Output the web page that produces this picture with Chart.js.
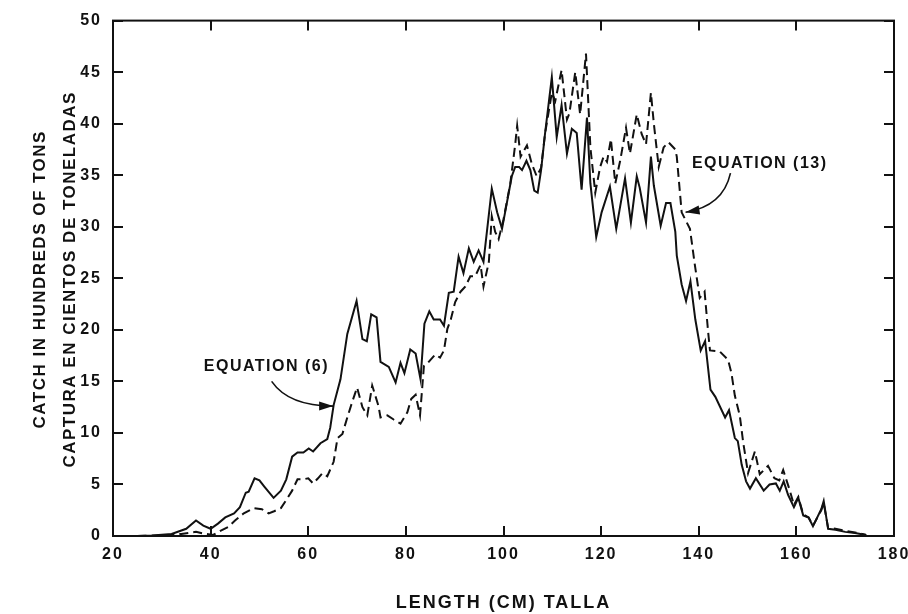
<!DOCTYPE html>
<html>
<head>
<meta charset="utf-8">
<script src="https://cdn.jsdelivr.net/npm/chart.js@4.4.1/dist/chart.umd.min.js"></script>
<style>
  html, body { margin: 0; padding: 0; background: #fff; }
  canvas { display: block; }
</style>
</head>
<body>
<canvas id="chart" width="908" height="614"></canvas>
<script>
// Catch by length, two estimates (solid = eq. 6, dashed = eq. 13).
const eq6Length = [25, 28, 32, 35, 37, 38.5, 40, 41.5, 43, 44.8, 46, 47.2, 47.8, 49, 50, 51, 52.9, 54.4, 55.5, 56.7,
  57.8, 59, 60.1, 61, 62.5, 63.9, 64.5, 65.2, 66.6, 68, 69.9, 71.1, 72, 72.9, 74, 74.8, 76.5, 77.9, 78.9, 79.7,
  80.9, 82, 83, 83.8, 84.8, 85.7, 87, 87.8, 88.8, 89.8, 90.8, 91.8, 92.9, 93.9, 94.9, 95.9, 97.6, 98.7, 99.7, 101.7,
  102.4, 103.2, 103.8, 104.7, 105.5, 106.3, 107, 107.7, 108.5, 109.9, 110.9, 111.9, 113, 114, 115, 116, 117.1, 117.8, 119, 120.1,
  121.8, 123.1, 124.9, 126.1, 127.3, 127.9, 129.2, 130.2, 130.8, 132.2, 133.3, 134.2, 135.2, 135.5, 136.5, 137.4, 138.3, 139.3, 140.4, 141.3,
  142.4, 143.4, 145.4, 146.2, 147.4, 148, 148.8, 149.7, 150.5, 151.7, 153.3, 154.5, 155.8, 156.6, 157.4, 158.3, 159.5, 160.4, 161.4, 162.5,
  163.4, 165.1, 165.6, 166.5, 168, 170, 172, 174.3];
const eq6Catch = [0, 0.05, 0.2, 0.7, 1.5, 1.0, 0.7, 1.2, 1.8, 2.2, 2.8, 4.2, 4.3, 5.6, 5.4, 4.8, 3.7, 4.4, 5.5, 7.7,
  8.1, 8.1, 8.5, 8.2, 9.0, 9.4, 10.5, 12.7, 15.2, 19.6, 22.8, 19.1, 18.9, 21.5, 21.2, 16.9, 16.4, 14.9, 16.8, 15.8,
  18.1, 17.7, 15.2, 20.6, 21.8, 21.0, 21.0, 20.4, 23.6, 23.7, 27.1, 25.5, 27.9, 26.6, 27.7, 26.6, 33.7, 31.4, 29.8, 34.9,
  35.8, 35.8, 35.5, 36.4, 35.5, 33.5, 33.3, 35.5, 39.0, 44.5, 38.7, 41.8, 37.1, 39.5, 39.1, 33.6, 40.6, 34.2, 29.0, 31.4,
  33.9, 29.8, 34.7, 30.4, 34.9, 33.8, 30.4, 36.8, 34.0, 30.1, 32.3, 32.3, 29.5, 27.2, 24.4, 22.8, 24.7, 21.0, 18.0, 18.9,
  14.2, 13.5, 11.5, 12.2, 9.5, 9.2, 6.9, 5.3, 4.6, 5.6, 4.4, 5.0, 5.1, 4.4, 5.3, 4.0, 2.8, 3.7, 2.0, 1.8,
  0.95, 2.6, 3.4, 0.7, 0.6, 0.4, 0.3, 0.1];

const eq13Length = [25, 30, 34, 37, 39, 40.5, 42, 43.7, 45, 46.8, 48.8, 50.5, 51.9, 53, 54.4, 55.5, 56.7, 57.8, 59, 60,
  61, 62, 62.9, 63.9, 65.2, 66, 67, 68, 69, 70, 71.1, 72.1, 73.1, 74.4, 74.8, 76.2, 77.5, 78.9, 80.3, 81.1,
  82, 82.9, 83.7, 84.5, 86, 87, 87.8, 88.5, 89.2, 90.1, 91.2, 92.2, 93.2, 94.2, 95.3, 95.9, 97, 97.6, 98.3, 99,
  100, 101.4, 102.4, 102.8, 103.5, 104.8, 105.8, 106.8, 107.7, 108.5, 109.9, 110.6, 111.9, 113, 113.5, 114.7, 115.7, 116.9, 117.8, 118.8,
  119.8, 120.5, 121.2, 122, 122.9, 123.9, 125.1, 125.9, 127.3, 128.3, 129.2, 130.2, 130.8, 131.8, 132.8, 133.8, 135.2, 135.5, 136.5, 138.2,
  139.2, 140.2, 141.2, 141.9, 142.3, 144.3, 146, 146.7, 147.4, 148.4, 149.1, 150.1, 151.5, 152.5, 154.2, 155.5, 156.5, 157.3, 158.6, 159.5,
  160.4, 161.4, 162.5, 163.4, 165.1, 165.6, 166.5, 168, 170, 172, 174.3];
const eq13Catch = [0, 0.05, 0.2, 0.4, 0.2, 0.1, 0.5, 0.9, 1.5, 2.2, 2.7, 2.6, 2.2, 2.4, 2.7, 3.5, 4.4, 5.5, 5.5, 5.6,
  5.1, 5.6, 6.1, 5.8, 7.2, 9.5, 9.9, 11.5, 13.0, 14.4, 12.5, 11.7, 14.6, 12.6, 11.5, 11.7, 11.3, 10.9, 12.0, 13.3,
  13.7, 11.7, 16.5, 16.8, 17.6, 17.3, 18.0, 20.1, 21.0, 22.7, 23.7, 24.2, 25.2, 25.2, 26.3, 24.2, 26.6, 31.0, 29.5, 28.8,
  30.7, 34.2, 38.0, 39.8, 36.8, 37.9, 36.1, 34.9, 35.7, 39.0, 43.0, 42.2, 45.2, 40.4, 41.0, 45.0, 40.9, 46.8, 37.7, 33.3,
  35.8, 36.8, 36.3, 38.5, 34.2, 36.4, 39.6, 37.1, 40.9, 39.0, 38.0, 43.0, 40.0, 35.8, 37.7, 38.2, 37.5, 36.8, 31.4, 29.8,
  26.3, 23.1, 23.7, 19.9, 18.0, 17.9, 17.1, 15.8, 13.6, 11.7, 9.1, 6.1, 8.2, 6.0, 6.8, 5.6, 5.4, 6.4, 4.5, 3.0,
  3.8, 2.1, 1.8, 1.0, 2.5, 3.2, 0.8, 0.7, 0.5, 0.35, 0.1];

const xTitle = "LENGTH (CM) TALLA";
const yTitle = ["CATCH IN HUNDREDS OF TONS", "CAPTURA EN CIENTOS DE TONELADAS"];

// label text, where the text sits and where the arrow lands (data units)
const notes = [
  { text: "EQUATION (6)", tx: 38.6, ty: 16.4, from: [52.5, 15.0], to: [65.1, 12.6], ctrl: [56, 12.6] },
  { text: "EQUATION (13)", tx: 138.6, ty: 36.1, from: [146.5, 35.2], to: [137.3, 31.4], ctrl: [145, 32.0] },
];

const INK = "#111";
const FONT = '"Liberation Sans", Arial, sans-serif';

const pairs = (xs, ys) => xs.map((x, i) => ({ x, y: ys[i] }));

function arrow(ctx, x0, y0, cx, cy, x1, y1) {
  ctx.beginPath();
  ctx.moveTo(x0, y0);
  ctx.quadraticCurveTo(cx, cy, x1, y1);
  ctx.stroke();
  const a = Math.atan2(y1 - cy, x1 - cx);
  const L = 14, W = 4.5;
  ctx.beginPath();
  ctx.moveTo(x1, y1);
  ctx.lineTo(x1 - L * Math.cos(a) + W * Math.sin(a), y1 - L * Math.sin(a) - W * Math.cos(a));
  ctx.lineTo(x1 - L * Math.cos(a) - W * Math.sin(a), y1 - L * Math.sin(a) + W * Math.cos(a));
  ctx.closePath();
  ctx.fill();
}

// frame with inward ticks on all four sides, axis titles and the two call-outs
const decor = {
  id: "decor",
  beforeDraw(chart) {
    chart.ctx.letterSpacing = "2px";
  },
  afterDraw(chart) {
    const { ctx, chartArea: a, scales } = chart;
    const xs = scales.x, ys = scales.y;
    ctx.save();
    ctx.strokeStyle = INK;
    ctx.fillStyle = INK;
    ctx.lineWidth = 2;
    ctx.strokeRect(a.left, a.top, a.right - a.left, a.bottom - a.top);
    ctx.beginPath();
    for (let v = 20; v <= 180; v += 20) {
      const p = Math.round(xs.getPixelForValue(v));
      ctx.moveTo(p, a.bottom); ctx.lineTo(p, a.bottom - 10);
      ctx.moveTo(p, a.top); ctx.lineTo(p, a.top + 10);
    }
    for (let v = 0; v <= 50; v += 5) {
      const p = Math.round(ys.getPixelForValue(v));
      ctx.moveTo(a.left, p); ctx.lineTo(a.left + 10, p);
      ctx.moveTo(a.right, p); ctx.lineTo(a.right - 10, p);
    }
    ctx.stroke();

    ctx.letterSpacing = "2px";
    ctx.font = "bold 18px " + FONT;
    ctx.textAlign = "center";
    ctx.textBaseline = "middle";
    ctx.fillText(xTitle, (a.left + a.right) / 2, 603);
    ctx.letterSpacing = "1.5px";
    ctx.font = "bold 17px " + FONT;
    const midY = (a.top + a.bottom) / 2 + 1;
    [40, 70].forEach((x, i) => {
      ctx.save();
      ctx.translate(x, midY);
      ctx.rotate(-Math.PI / 2);
      ctx.fillText(yTitle[i], 0, 0);
      ctx.restore();
    });

    ctx.letterSpacing = "1.5px";
    ctx.font = "bold 16px " + FONT;
    ctx.textAlign = "left";
    ctx.lineWidth = 1.6;
    notes.forEach((n) => {
      ctx.fillText(n.text, xs.getPixelForValue(n.tx), ys.getPixelForValue(n.ty));
      arrow(ctx,
        xs.getPixelForValue(n.from[0]), ys.getPixelForValue(n.from[1]),
        xs.getPixelForValue(n.ctrl[0]), ys.getPixelForValue(n.ctrl[1]),
        xs.getPixelForValue(n.to[0]), ys.getPixelForValue(n.to[1]));
    });
    ctx.restore();
  },
};

Chart.defaults.font.family = FONT;
Chart.defaults.font.weight = "bold";
Chart.defaults.font.size = 16;
Chart.defaults.color = INK;

new Chart(document.getElementById("chart"), {
  type: "line",
  data: {
    datasets: [
      { label: "Equation (6)", data: pairs(eq6Length, eq6Catch), borderColor: INK, borderWidth: 2, pointRadius: 0, tension: 0 },
      { label: "Equation (13)", data: pairs(eq13Length, eq13Catch), borderColor: INK, borderWidth: 2, borderDash: [9, 5], pointRadius: 0, tension: 0 },
    ],
  },
  options: {
    responsive: false,
    animation: false,
    events: [],
    layout: { padding: { top: 11, right: 14, left: 0, bottom: 0 } },
    plugins: { legend: { display: false }, tooltip: { enabled: false } },
    scales: {
      x: {
        type: "linear",
        min: 20,
        max: 180,
        grid: { display: false, drawTicks: false },
        border: { display: false },
        ticks: { stepSize: 20, padding: 9, maxRotation: 0, color: INK },
        afterFit(s) { s.height = 78; s.paddingLeft = 0; s.paddingRight = 0; },
      },
      y: {
        min: 0,
        max: 50,
        grid: { display: false, drawTicks: false },
        border: { display: false },
        ticks: { stepSize: 5, padding: 11, color: INK },
        afterFit(s) { s.width = 113; },
      },
    },
  },
  plugins: [decor],
});
</script>
</body>
</html>
